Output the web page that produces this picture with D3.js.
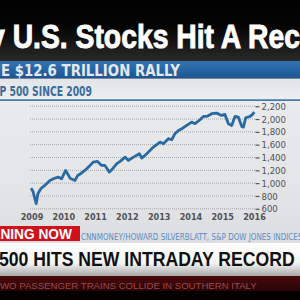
<!DOCTYPE html>
<html><head><meta charset="utf-8">
<script src="https://cdn.jsdelivr.net/npm/d3@7"></script>
<style>body{margin:0;background:#000}svg{display:block}</style>
</head><body>
<svg id="c" width="300" height="300"></svg>
<script>
// ---- data ----
const dates = ["2009-01-02","2009-01-26","2009-03-06","2009-03-28","2009-05-04","2009-06-20","2009-08-22","2009-10-11","2009-12-01",
"2010-01-14","2010-03-04","2010-04-02","2010-04-27","2010-06-28","2010-07-31","2010-09-09","2010-10-27","2010-12-17",
"2011-02-07","2011-04-01","2011-05-22","2011-07-01","2011-07-27","2011-08-25","2011-10-05","2011-11-25",
"2012-01-05","2012-03-07","2012-04-16","2012-06-17","2012-08-29","2012-09-27","2012-11-28",
"2013-02-18","2013-05-11","2013-06-21","2013-08-22","2013-10-02","2013-11-11","2013-12-24",
"2014-02-03","2014-04-05","2014-06-05","2014-07-16","2014-09-16","2014-10-27","2014-12-08",
"2015-02-07","2015-04-09","2015-06-09","2015-07-20","2015-09-01","2015-10-12","2015-11-21",
"2016-01-01","2016-02-13","2016-03-04","2016-04-01","2016-05-26","2016-06-24","2016-07-16"];
const values = [922,870,680,840,917,965,1042,1073,1094,
1069,1198,1136,1078,1042,1120,1151,1198,1260,
1328,1339,1276,1276,1229,1172,1225,1303,
1339,1406,1354,1406,1459,1390,1459,
1562,1640,1615,1693,1677,1771,1822,
1849,1900,1952,1927,1989,2041,2041,
2083,2092,2056,2072,1927,1900,2041,
2030,1885,1874,2020,2041,2072,2108];
const yTicks = [600,800,1000,1200,1400,1600,1800,2000,2200];
const yearLabels = ["2009","2010","2011","2012","2013","2014","2015","2016"];
const headline = "Why U.S. Stocks Hit A Record";
const title = "THE $12.6 TRILLION RALLY";
const subtitle = "S&P 500 SINCE 2009";
const source = "CNNMONEY/HOWARD SILVERBLATT, S&P DOW JONES INDICES";
const bugLabel = "HAPPENING NOW";
const lowerThird = "S&P 500 HITS NEW INTRADAY RECORD";
const ticker = "TWO PASSENGER TRAINS COLLIDE IN SOUTHERN ITALY";

const svg = d3.select("#c");
const defs = svg.append("defs");
function grad(id, stops, x2=0, y2=1){
  const g = defs.append("linearGradient").attr("id",id).attr("x1",0).attr("y1",0).attr("x2",x2).attr("y2",y2);
  stops.forEach(s=>g.append("stop").attr("offset",s[0]).attr("stop-color",s[1]));
}
grad("gHead",[[0,"#000"],[0.45,"#050505"],[1,"#2a2a2a"]]);
grad("gBlue",[[0,"#3474b3"],[1,"#1c5592"]]);
grad("gSub",[[0,"#e2e4e7"],[1,"#eceef0"]]);
grad("gChart",[[0,"#e9eaec"],[0.6,"#e4e5e7"],[1,"#dcdde0"]]);
grad("gWhite",[[0,"#ffffff"],[0.6,"#f4f4f4"],[1,"#a9a9a9"]]);
grad("gRed",[[0,"#4a0a0c"],[0.6,"#2a0506"],[1,"#0a0000"]]);

const cond = "'Liberation Sans Narrow','DejaVu Sans Condensed','Roboto',sans-serif";
// backgrounds
svg.append("rect").attr("x",0).attr("y",0).attr("width",300).attr("height",61).attr("fill","url(#gHead)");
svg.append("rect").attr("x",0).attr("y",61).attr("width",300).attr("height",17.5).attr("fill","url(#gBlue)");
svg.append("rect").attr("x",0).attr("y",78.5).attr("width",300).attr("height",21).attr("fill","url(#gSub)");
svg.append("rect").attr("x",0).attr("y",99.5).attr("width",300).attr("height",144).attr("fill","url(#gChart)");
svg.append("line").attr("x1",0).attr("x2",300).attr("y1",100.3).attr("y2",100.3).attr("stroke","#3f7db6").attr("stroke-width",1.6);
svg.append("rect").attr("x",0).attr("y",243).attr("width",300).attr("height",33).attr("fill","url(#gWhite)");
svg.append("rect").attr("x",0).attr("y",276).attr("width",300).attr("height",24).attr("fill","url(#gRed)");
svg.append("rect").attr("x",0).attr("y",291).attr("width",300).attr("height",9).attr("fill","#050000");

// place text so that substring [i, i+n) spans from x0 to x1
function placeText(str, i, n, x0, x1, baseline, attrs){
  const t = svg.append("text").text(str).attr("x",0).attr("y",0);
  Object.entries(attrs).forEach(([k,v])=>t.attr(k,v));
  const node = t.node();
  const sub = node.getSubStringLength(i, n);
  const pre = i>0 ? node.getSubStringLength(0, i) : 0;
  const s = (x1-x0)/sub;
  t.attr("transform",`translate(${x0 - pre*s},${baseline}) scale(${s},1)`);
  return t;
}

// headline
placeText(headline, 4, 21, 12.7, 300, 47.5, {"font-family":"'Liberation Sans','Arimo',sans-serif","font-weight":"bold","font-size":33,"fill":"#fff","stroke":"#fff","stroke-width":0.9});
// blue title
placeText(title, 2, 22, 1, 180, 75.5, {"font-family":cond,"font-weight":"bold","font-size":15,"fill":"#e3e8ef"});
// subtitle
placeText(subtitle, 2, 16, -0.5, 92, 96.3, {"font-family":cond,"font-size":13.5,"fill":"#3a6c9e","font-weight":"bold"});

// chart
const x = d3.scaleTime().domain([new Date(2009,0,1), new Date(2016,6,16)]).range([31, 254.3]);
const y = d3.scaleLinear().domain([600,2200]).range([208.8,106.2]);
const parse = d3.timeParse("%Y-%m-%d");
const pts = dates.map((d,i)=>({d:parse(d), v:values[i]}));

svg.append("g").selectAll("line").data(yTicks).join("line")
  .attr("x1",30).attr("x2",255).attr("y1",d=>y(d)).attr("y2",d=>y(d))
  .attr("stroke","#a8a9ab").attr("stroke-width",1).attr("stroke-dasharray","1,1");

const yAxis = svg.append("g").attr("transform","translate(255.5,0)")
  .call(d3.axisRight(y).tickValues(yTicks).tickSize(4).tickPadding(2).tickFormat(d3.format(",")));
yAxis.select(".domain").remove();
yAxis.selectAll(".tick line").attr("stroke","#555").attr("stroke-width",1.2);
yAxis.selectAll(".tick text").attr("fill","#505256").attr("font-family",cond).attr("font-size",9.5);

const xl = d3.scalePoint().domain(yearLabels).range([31.5,254]);
const xAxis = svg.append("g").attr("transform","translate(0,211)")
  .call(d3.axisBottom(xl).tickSize(0).tickPadding(3));
xAxis.select(".domain").remove();
xAxis.selectAll(".tick text").attr("fill","#505256").attr("font-family",cond).attr("font-size",9).attr("font-weight","bold");

svg.append("path").datum(pts)
  .attr("d", d3.line().x(d=>x(d.d)).y(d=>y(d.v)))
  .attr("fill","none").attr("stroke","#2a6aa3").attr("stroke-width",2.8).attr("stroke-linejoin","round");

// source line
placeText(source, 0, 49, 81, 298, 240, {"font-family":cond,"font-size":9.5,"fill":"#5b8cc4"});
// red bug
svg.append("rect").attr("x",0).attr("y",226).attr("width",80).attr("height",15).attr("fill","#cf111b");
placeText(bugLabel, 5, 8, 0.5, 72, 238.5, {"font-family":"'Liberation Sans','Arimo',sans-serif","font-weight":"bold","font-size":14,"fill":"#fff"});
// lower third
placeText(lowerThird, 4, 28, -1, 295, 265.5, {"font-family":"'Liberation Sans','Arimo',sans-serif","font-weight":"bold","font-size":21,"fill":"#111"});
// ticker
placeText(ticker, 1, 45, 0, 257, 288.5, {"font-family":"'Liberation Sans','Arimo',sans-serif","font-size":9.5,"fill":"#9c4a4e"});
</script>
</body></html>
